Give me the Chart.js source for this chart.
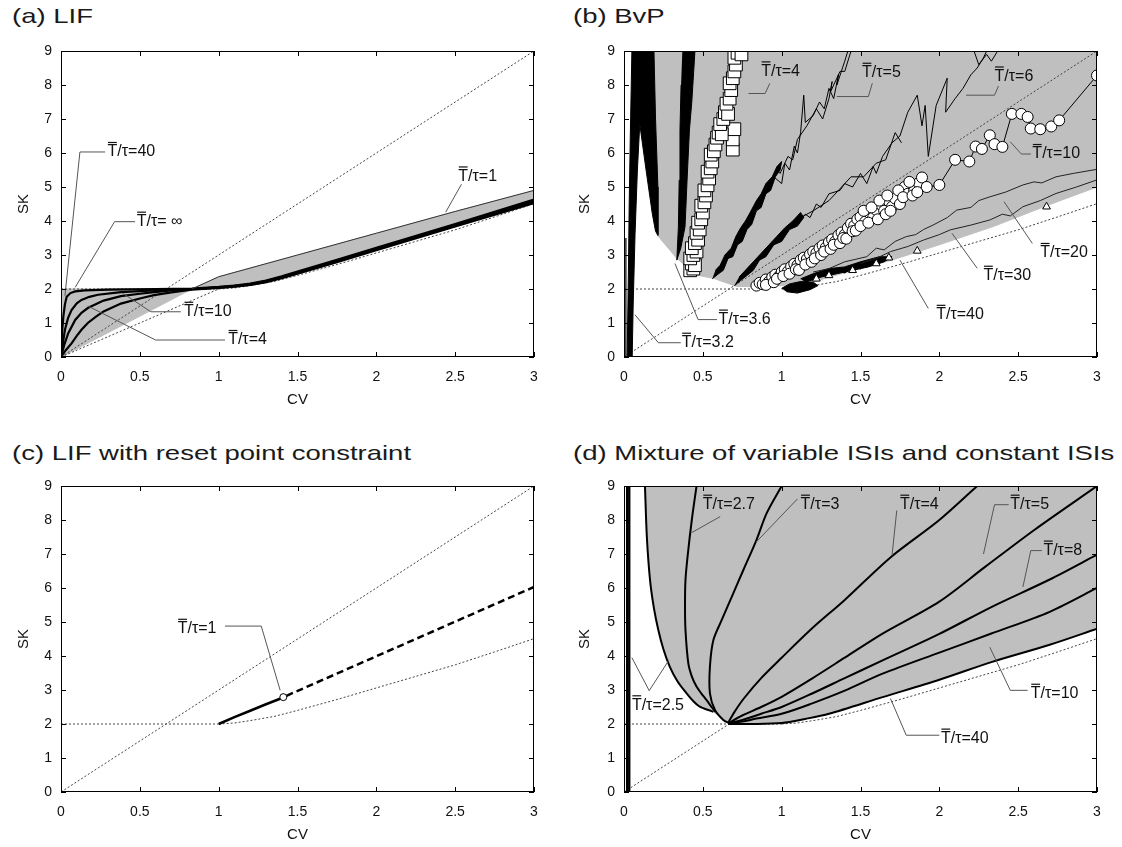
<!DOCTYPE html>
<html lang="en">
<head>
<meta charset="UTF-8">
<title>SK versus CV</title>
<script src="https://cdn.jsdelivr.net/npm/chart.js"></script>
<style>
  body { margin: 0; background: #fff; }
  #page { position: relative; width: 1122px; height: 847px; overflow: hidden; font-family: "Liberation Sans", Arial, sans-serif; }
  .ttl { position: absolute; font-size: 21px; line-height: 26px; color: #1a1a1a; white-space: nowrap; transform: scaleX(1.31); transform-origin: 0 0; }
  canvas { position: absolute; }
</style>
</head>
<body>
<div id="page">
  <div class="ttl" style="left:12px;top:3px">(a) LIF</div>
  <div class="ttl" style="left:573px;top:3px">(b) BvP</div>
  <div class="ttl" style="left:12px;top:440px">(c) LIF with reset point constraint</div>
  <div class="ttl" style="left:573px;top:440px">(d) Mixture of variable ISIs and constant ISIs</div>
  <canvas id="pa" width="561" height="412" style="left:0;top:0"></canvas>
  <canvas id="pb" width="561" height="412" style="left:561px;top:0"></canvas>
  <canvas id="pc" width="561" height="412" style="left:0;top:435px"></canvas>
  <canvas id="pd" width="561" height="412" style="left:561px;top:435px"></canvas>
</div>
<script>
// axis ticks
const cvTicks = [0, 0.5, 1, 1.5, 2, 2.5, 3];
const skTicks = [0, 1, 2, 3, 4, 5, 6, 7, 8, 9];

// guide lines shared by all panels  [CV, SK]
const diagonal = [[0, 0], [3, 9]];
const flatTwo = [[0, 2], [1, 2]];
const lowerBound = [[1, 2], [1.1, 2.03], [1.2, 2.1], [1.35, 2.22], [1.5, 2.4], [1.75, 2.72], [2, 3.06], [2.25, 3.4], [2.5, 3.74], [2.75, 4.12], [3, 4.51]];

// (a) LIF
const lifGray = [[0, 0], [0, 2], [0.83, 2], [1, 2.36], [1.5, 3], [2, 3.64], [2.5, 4.28], [3, 4.9], [3, 4.54], [2.5, 3.83], [2, 3.15], [1.75, 2.8], [1.5, 2.46], [1.4, 2.32], [1.3, 2.2], [1.2, 2.12], [1.1, 2.07], [1, 2.04], [0.83, 2], [0.5, 1.2], [0, 0]];
const lifSlope = [[0, 0], [1, 2]];
const lifT1 = [[0.83, 2], [1, 2.36], [1.5, 3], [2, 3.64], [2.5, 4.28], [3, 4.9]];
const lifInf = [[0, 0], [0.008, 0.8], [0.015, 1.2], [0.025, 1.55], [0.036, 1.77], [0.06, 1.88], [0.09, 1.93], [0.15, 1.96], [0.3, 1.98], [0.6, 2], [0.83, 2.01], [1, 2.06], [1.1, 2.1], [1.2, 2.16], [1.3, 2.25], [1.4, 2.37], [1.5, 2.51], [1.75, 2.86], [2, 3.21], [2.5, 3.91], [3, 4.63]];
const lifT40 = [[0, 0], [0.015, 0.5], [0.025, 0.8], [0.045, 1.15], [0.067, 1.38], [0.1, 1.58], [0.13, 1.68], [0.18, 1.77], [0.235, 1.83], [0.38, 1.91], [0.59, 1.96], [0.83, 2], [1, 2.05], [1.1, 2.09], [1.2, 2.14], [1.3, 2.23], [1.4, 2.35], [1.5, 2.49], [1.75, 2.83], [2, 3.18], [2.5, 3.88], [3, 4.59]];
const lifT10 = [[0, 0], [0.02, 0.35], [0.046, 0.7], [0.09, 1.09], [0.13, 1.3], [0.17, 1.44], [0.27, 1.66], [0.38, 1.79], [0.5, 1.86], [0.59, 1.91], [0.7, 1.96], [0.83, 2], [1, 2.04], [1.1, 2.08], [1.2, 2.13], [1.3, 2.21], [1.4, 2.33], [1.5, 2.47], [1.75, 2.81], [2, 3.16], [2.5, 3.86], [3, 4.56]];
const lifT4 = [[0, 0], [0.03, 0.2], [0.067, 0.4], [0.1, 0.62], [0.13, 0.8], [0.17, 1], [0.22, 1.18], [0.27, 1.34], [0.38, 1.57], [0.5, 1.72], [0.59, 1.82], [0.7, 1.9], [0.83, 1.98], [1, 2.03], [1.1, 2.07], [1.2, 2.12], [1.3, 2.2], [1.4, 2.32], [1.5, 2.45], [1.75, 2.79], [2, 3.14], [2.5, 3.84], [3, 4.53]];
const lifLeaders = [
  [[0.28, 6.03], [0.12, 6.03], [0.025, 1.8]],
  [[0.47, 3.98], [0.34, 3.98], [0.09, 2.05]],
  [[0.76, 1.33], [0.57, 1.33], [0.39, 1.88]],
  [[1.04, 0.5], [0.6, 0.5], [0.17, 1.5]],
  [[2.54, 5.08], [2.44, 4.26]]
];
const lifNotes = [['=40', 0.295, 6.03], ['= \u221e', 0.48, 3.98], ['=10', 0.78, 1.33], ['=4', 1.06, 0.5], ['=1', 2.52, 5.31]];

// (b) BvP
const bvpGray = [[0.15, 9], [3, 9], [3, 5], [2.68, 4.45], [2.35, 3.85], [2, 3.3], [1.7, 2.85], [1.5, 2.6], [1.3, 2.35], [1.2, 2.2], [1, 2.1], [0.86, 2.06], [0.71, 2.08], [0.57, 2.31], [0.46, 2.41], [0.335, 2.9], [0.21, 3.59], [0.15, 9]];
const bvpStripeA = [[0.05, 9], [0.19, 9], [0.2, 7], [0.215, 5], [0.215, 3.58], [0.2, 3.7], [0.18, 4.2], [0.14, 5.5], [0.1, 6.85], [0.085, 5.5], [0.07, 3.6], [0.058, 1.5], [0.052, 0], [0.02, 0], [0.028, 2.5], [0.033, 4.5], [0.04, 6.5], [0.05, 9]];
const bvpStripeB = [[0.37, 9], [0.45, 9], [0.43, 7.5], [0.415, 6.68], [0.4, 5.2], [0.387, 3.83], [0.36, 3.2], [0.335, 2.85], [0.345, 3.83], [0.35, 5.2], [0.355, 6.68], [0.362, 8]];
const bvpThin = [[0.012, 0], [0.012, 3.5]];
const bvpStreak5 = [[0.56, 2.3], [0.6, 2.45], [0.63, 2.55], [0.66, 2.9], [0.69, 2.95], [0.72, 3.3], [0.75, 3.4], [0.78, 3.75], [0.81, 3.9], [0.84, 4.3], [0.87, 4.4], [0.9, 4.8], [0.93, 4.9], [0.96, 5.3], [0.99, 5.5], [1, 5.75], [0.97, 5.6], [0.94, 5.3], [0.9, 5.1], [0.87, 4.8], [0.84, 4.6], [0.8, 4.25], [0.77, 4], [0.74, 3.8], [0.71, 3.55], [0.68, 3.2], [0.64, 3], [0.61, 2.7], [0.58, 2.55]];
const bvpStreak6 = [[0.7, 2.1], [0.74, 2.25], [0.78, 2.4], [0.82, 2.55], [0.86, 2.85], [0.9, 2.95], [0.95, 3.3], [1, 3.4], [1.05, 3.75], [1.1, 3.85], [1.14, 4.1], [1.12, 4.25], [1.07, 4], [1.02, 3.8], [0.97, 3.55], [0.92, 3.3], [0.87, 3.05], [0.82, 2.8], [0.77, 2.55], [0.73, 2.35]];
const bvpBlob = [[1, 2.02], [1.05, 2.15], [1.12, 2.22], [1.2, 2.2], [1.23, 2.1], [1.18, 1.98], [1.1, 1.88], [1.03, 1.92]];
const bvpMess = [[1.15, 2.2], [1.25, 2.35], [1.35, 2.45], [1.45, 2.55], [1.55, 2.65], [1.65, 2.8], [1.7, 2.95], [1.62, 2.95], [1.5, 2.8], [1.4, 2.65], [1.3, 2.6], [1.2, 2.45], [1.12, 2.3]];
const bvpJag5a = [[0.95, 5.3], [1, 5.1], [1.02, 5.7], [1.05, 5.5], [1.08, 6.2], [1.1, 6], [1.12, 6.6], [1.14, 7.7], [1.15, 6.9], [1.2, 7.1], [1.24, 7.5], [1.27, 7.3], [1.3, 7.9], [1.33, 7.6], [1.36, 8.3], [1.35, 8], [1.4, 8.7], [1.42, 9]];
const bvpJag5b = [[0.97, 5.5], [0.99, 5.4], [1.04, 5.9], [1.07, 5.8], [1.1, 6.4], [1.16, 6.8], [1.22, 7.3], [1.26, 7], [1.3, 7.6], [1.32, 8.1], [1.31, 7.8], [1.37, 8.4], [1.4, 8.4], [1.44, 9]];
const bvpJag6a = [[1.1, 3.9], [1.15, 4.2], [1.18, 4.1], [1.22, 4.5], [1.25, 4.4], [1.3, 4.8], [1.37, 4.9], [1.4, 5.1], [1.45, 5], [1.5, 5.4], [1.54, 5.1], [1.58, 5.6], [1.6, 5.4], [1.64, 5.9], [1.7, 6.3], [1.75, 6.5], [1.8, 7.2], [1.86, 7.7], [1.89, 6.8], [1.91, 7.4], [1.93, 5.9], [1.98, 7.4], [2.05, 8.2], [2.04, 7.2], [2.1, 7.6], [2.15, 7.9], [2.2, 8.3], [2.24, 8.5], [2.28, 8.8], [2.3, 9]];
const bvpJag6b = [[1.12, 4.1], [1.2, 4.3], [1.3, 4.6], [1.38, 5], [1.44, 5.3], [1.52, 5.3], [1.6, 5.7], [1.66, 5.8], [1.72, 6.6], [1.76, 6.3]];
const bvpJag6c = [[2.22, 9], [2.25, 8.6], [2.3, 8.9], [2.33, 8.7], [2.37, 9]];
const bvpT20 = [[1.2, 2.5], [1.3, 2.6], [1.4, 2.8], [1.54, 2.95], [1.6, 3.2], [1.65, 3.15], [1.72, 3.4], [1.79, 3.54], [1.85, 3.6], [1.9, 3.75], [1.96, 3.88], [2.05, 4.1], [2.11, 4.32], [2.2, 4.4], [2.25, 4.6], [2.32, 4.71], [2.42, 4.85], [2.53, 5.06], [2.6, 5.15], [2.65, 5.12], [2.74, 5.3], [2.85, 5.4], [3, 5.52]];
const bvpT30 = [[1.5, 2.75], [1.6, 2.9], [1.69, 3.1], [1.8, 3.25], [1.9, 3.44], [2, 3.6], [2.07, 3.74], [2.2, 3.88], [2.32, 4.03], [2.4, 4.2], [2.45, 4.15], [2.53, 4.42], [2.64, 4.6], [2.74, 4.81], [2.87, 5], [3, 5.21]];
const bvpT40 = [[1.2, 2.3], [1.25, 2.45], [1.3, 2.38], [1.35, 2.55], [1.4, 2.48], [1.46, 2.68], [1.5, 2.6], [1.56, 2.8], [1.6, 2.72], [1.65, 2.9], [1.7, 2.88]];
const bvpSquares = [[0.42, 2.55], [0.44, 2.6], [0.43, 2.75], [0.45, 2.7], [0.42, 2.9], [0.44, 3], [0.46, 3.1], [0.43, 3.2], [0.45, 3.35], [0.47, 3.45], [0.46, 3.65], [0.48, 3.75], [0.47, 3.95], [0.49, 4.05], [0.5, 4.25], [0.49, 4.45], [0.51, 4.55], [0.52, 4.75], [0.51, 4.9], [0.53, 5.05], [0.54, 5.25], [0.53, 5.45], [0.55, 5.55], [0.56, 5.75], [0.55, 5.95], [0.57, 6.05], [0.58, 6.25], [0.59, 6.45], [0.6, 6.6], [0.69, 6.1], [0.69, 6.4], [0.7, 6.7], [0.62, 6.55], [0.61, 6.85], [0.63, 7], [0.64, 7.2], [0.66, 7.15], [0.65, 7.45], [0.67, 7.6], [0.68, 7.85], [0.67, 8.05], [0.69, 8.2], [0.7, 8.4], [0.71, 8.6], [0.7, 8.8], [0.72, 8.95], [0.745, 8.9]];
const bvpCircles = [[0.84, 2.1], [0.86, 2.18], [0.88, 2.14], [0.9, 2.28], [0.92, 2.22], [0.94, 2.35], [0.96, 2.42], [0.98, 2.36], [1, 2.5], [1.02, 2.58], [1.04, 2.52], [1.06, 2.66], [1.08, 2.74], [1.1, 2.7], [1.12, 2.85], [1.14, 2.92], [1.16, 2.88], [1.18, 3.02], [1.2, 3.1], [1.22, 3.06], [1.24, 3.2], [1.26, 3.28], [1.28, 3.22], [1.3, 3.38], [1.32, 3.46], [1.34, 3.4], [1.36, 3.58], [1.38, 3.66], [1.4, 3.6], [1.42, 3.8], [1.44, 3.92], [1.46, 3.86], [1.48, 4.05], [1.5, 4.12], [1.53, 3.98], [1.56, 4.22], [1.58, 4.1], [1.6, 4.32], [1.63, 4.48], [1.65, 4.3], [1.68, 4.58], [1.7, 4.42], [1.72, 4.66], [1.75, 4.5], [1.78, 5], [1.8, 4.8], [1.84, 4.88], [1.87, 5.12], [1.89, 5.28], [1.92, 5], [2, 5.06], [2.1, 5.8], [2.19, 5.75], [2.23, 6.19], [2.27, 6.12], [2.32, 6.52], [2.35, 6.26], [2.4, 6.18], [2.46, 7.15], [2.52, 7.15], [2.56, 7.06], [2.58, 6.72], [2.64, 6.7], [2.71, 6.78], [2.76, 6.96], [3, 8.28]];
const bvpCirclesExtra = [[0.9, 2.12], [0.95, 2.2], [0.97, 2.3], [1.01, 2.38], [1.05, 2.45], [1.09, 2.58], [1.11, 2.56], [1.15, 2.72], [1.19, 2.8], [1.21, 2.9], [1.25, 3], [1.27, 3.1], [1.31, 3.18], [1.33, 3.3], [1.37, 3.35], [1.39, 3.5], [1.41, 3.48], [1.45, 3.7], [1.47, 3.72], [1.5, 3.85], [1.52, 4.3], [1.55, 3.95], [1.57, 4.4], [1.61, 4.05], [1.62, 4.6], [1.66, 4.2], [1.67, 4.75], [1.69, 4.3], [1.74, 4.9], [1.77, 4.7], [1.81, 5.15], [1.83, 4.75], [1.86, 4.85]];
const bvpTriangles = [[1.22, 2.3], [1.3, 2.4], [1.45, 2.55], [1.6, 2.75], [1.68, 2.92], [1.86, 3.12], [2.68, 4.42]];
const bvpLeaders = [
  [[0.79, 7.75], [0.895, 7.75], [0.925, 8.05]],
  [[1.575, 8.05], [1.55, 7.66], [1.35, 7.66]],
  [[2.375, 7.97], [2.35, 7.7], [2.17, 7.7]],
  [[2.58, 5.97], [2.52, 5.97], [2.45, 6.33]],
  [[2.59, 3.34], [2.41, 4.57]],
  [[2.24, 2.61], [2.08, 3.64]],
  [[1.93, 1.43], [1.75, 2.85]],
  [[0.59, 1.1], [0.47, 1.1], [0.323, 2.75]],
  [[0.36, 0.42], [0.218, 0.42], [0.07, 1.24]]
];
const bvpNotes = [['=4', 0.87, 8.4], ['=5', 1.51, 8.36], ['=6', 2.35, 8.25], ['=10', 2.59, 5.97], ['=20', 2.64, 3.06], ['=30', 2.28, 2.39], ['=40', 1.98, 1.24], ['=3.6', 0.6, 1.1], ['=3.2', 0.366, 0.42]];

// (c) LIF with reset point constraint
const resetSolid = [[1, 2], [1.1, 2.2], [1.2, 2.39], [1.3, 2.58], [1.41, 2.78]];
const resetDashed = [[1.43, 2.83], [3, 6.03]];
const resetPoint = [[1.41, 2.79]];
const resetLeaders = [[[1.04, 4.88], [1.27, 4.88], [1.39, 2.99]]];
const resetNotes = [['=1', 0.74, 4.8]];

// (d) mixture of variable ISIs and constant ISIs
const mixGray = [[0.133, 9], [0.145, 7.5], [0.165, 6.24], [0.19, 5.4], [0.218, 4.76], [0.25, 4.2], [0.29, 3.69], [0.34, 3.25], [0.397, 2.9], [0.44, 2.67], [0.48, 2.51], [0.53, 2.42], [0.567, 2.36], [0.6, 2.25], [0.64, 2.1], [0.67, 2.02], [0.8, 2], [1, 2.03], [1.15, 2.15], [1.3, 2.3], [1.64, 2.79], [2, 3.3], [2.33, 3.82], [2.7, 4.33], [3, 4.8], [3, 9]];
const mixT25 = [[0.133, 9], [0.145, 7.5], [0.165, 6.24], [0.19, 5.4], [0.218, 4.76], [0.25, 4.2], [0.29, 3.69], [0.34, 3.25], [0.397, 2.9], [0.44, 2.67], [0.48, 2.51], [0.53, 2.42], [0.567, 2.36]];
const mixT27 = [[0.46, 9], [0.43, 8], [0.405, 7], [0.39, 6.24], [0.387, 5.5], [0.39, 4.76], [0.408, 3.78], [0.43, 3.4], [0.46, 3.1], [0.49, 2.9], [0.524, 2.7], [0.555, 2.5], [0.58, 2.36]];
const mixT3 = [[1, 9], [0.905, 8.2], [0.84, 7.41], [0.757, 6.53], [0.693, 5.84], [0.62, 5.06], [0.567, 4.47], [0.545, 3.69], [0.545, 2.9], [0.577, 2.41], [0.63, 2.12], [0.67, 2.02]];
const mixT4 = [[0.66, 2.03], [0.7, 2.35], [0.76, 2.75], [0.87, 3.35], [1, 3.95], [1.19, 4.8], [1.4, 5.65], [1.69, 6.9], [2, 8], [2.24, 9]];
const mixT5 = [[0.66, 2.02], [0.75, 2.25], [0.87, 2.5], [1, 2.8], [1.19, 3.33], [1.4, 3.95], [1.64, 4.66], [2, 5.6], [2.29, 6.62], [2.6, 7.7], [3, 9]];
const mixT8 = [[0.66, 2.02], [0.75, 2.12], [0.87, 2.3], [1, 2.5], [1.19, 2.89], [1.4, 3.35], [1.64, 3.87], [2, 4.65], [2.33, 5.44], [2.7, 6.25], [3, 6.98]];
const mixT10 = [[0.66, 2.01], [0.75, 2.07], [0.84, 2.16], [1, 2.3], [1.19, 2.6], [1.4, 2.98], [1.64, 3.48], [2, 4.1], [2.33, 4.66], [2.7, 5.3], [3, 6]];
const mixT40 = [[0.66, 2], [0.8, 2], [1, 2.03], [1.15, 2.15], [1.3, 2.3], [1.64, 2.79], [2, 3.3], [2.33, 3.82], [2.7, 4.33], [3, 4.8]];
const mixWallA = [[0.022, 0], [0.022, 9]];
const mixWallB = [[0.036, 0], [0.036, 9]];
const mixLeaders = [
  [[0.61, 8.1], [0.43, 7.63]],
  [[1.1, 8.62], [0.84, 7.36]],
  [[1.73, 8.28], [1.7, 6.96]],
  [[2.44, 8.45], [2.35, 8.45], [2.28, 7]],
  [[2.65, 7.1], [2.58, 7.1], [2.53, 6.03]],
  [[2.56, 2.99], [2.45, 2.99], [2.32, 4.26]],
  [[2, 1.67], [1.79, 1.67], [1.69, 2.75]],
  [[0.05, 3.95], [0.16, 2.98], [0.285, 3.88]]
];
const mixNotes = [['=2.7', 0.5, 8.45], ['=3', 1.12, 8.45], ['=4', 1.75, 8.45], ['=5', 2.45, 8.45], ['=8', 2.66, 7.1], ['=10', 2.58, 2.89], ['=40', 2.01, 1.57], ['=2.5', 0.05, 2.55]];

const FONT = '"Liberation Sans", Arial, sans-serif';
const GRAY = '#bfbfbf';

const xy = arr => arr.map(p => ({ x: p[0], y: p[1] }));
function curve(arr, width, extra) {
  return Object.assign({ data: xy(arr), borderColor: '#000', borderWidth: width, pointRadius: 0, fill: false, order: 5 }, extra || {});
}
function dots(arr, order) {
  return curve(arr, 1, { borderColor: '#444', borderDash: [2, 2], order: order || 15 });
}
function area(arr, color, order) {
  return { data: xy(arr), fill: 'shape', backgroundColor: color, borderColor: color, borderWidth: 1, pointRadius: 0, order: order || 20 };
}
function marks(arr, style, r, line) {
  return { data: xy(arr), showLine: !!line, borderColor: '#000', borderWidth: 1, pointStyle: style, pointRadius: r,
    pointBackgroundColor: '#fff', pointBorderColor: '#000', pointBorderWidth: 1, order: 2 };
}
const smooth = (arr, w) => curve(arr, w, { tension: 0.3 });
const leaders = list => list.map(l => curve(l, 1, { borderColor: '#555', order: 1 }));

// inward ticks on all four sides plus the frame
const framePlugin = {
  id: 'frame',
  afterDraw(chart) {
    const { ctx, chartArea: a, scales: { x, y } } = chart;
    ctx.save();
    ctx.strokeStyle = '#000';
    ctx.lineWidth = 1;
    ctx.beginPath();
    cvTicks.forEach(v => {
      const px = Math.round(x.getPixelForValue(v)) + 0.5;
      ctx.moveTo(px, a.bottom); ctx.lineTo(px, a.bottom - 5);
      ctx.moveTo(px, a.top); ctx.lineTo(px, a.top + 5);
    });
    skTicks.forEach(v => {
      const py = Math.round(y.getPixelForValue(v)) + 0.5;
      ctx.moveTo(a.left, py); ctx.lineTo(a.left + 5, py);
      ctx.moveTo(a.right, py); ctx.lineTo(a.right - 5, py);
    });
    ctx.stroke();
    ctx.strokeRect(Math.round(a.left) + 0.5, Math.round(a.top) + 0.5, Math.round(a.width) - 1, Math.round(a.height) - 1);
    ctx.restore();
  }
};

// "T/τ=.." labels with a bar over the T
function notesPlugin(items) {
  return {
    id: 'notes',
    afterDatasetsDraw(chart) {
      const { ctx, scales: { x, y } } = chart;
      ctx.save();
      ctx.font = '16px ' + FONT;
      ctx.fillStyle = '#111';
      ctx.strokeStyle = '#111';
      ctx.lineWidth = 1.2;
      ctx.textBaseline = 'middle';
      items.forEach(([txt, cv, sk]) => {
        const px = x.getPixelForValue(cv), py = y.getPixelForValue(sk);
        const w = ctx.measureText('T').width;
        ctx.fillText('T', px, py);
        ctx.beginPath();
        ctx.moveTo(px + 0.5, py - 9.5);
        ctx.lineTo(px + w - 0.5, py - 9.5);
        ctx.stroke();
        ctx.fillText('/\u03c4' + txt, px + w, py);
      });
      ctx.restore();
    }
  };
}

function panel(id, yWidth, padRight, datasets, notes) {
  const tickFont = { family: FONT, size: 14 };
  const titleFont = { family: FONT, size: 15 };
  return new Chart(document.getElementById(id), {
    type: 'line',
    data: { datasets: datasets },
    options: {
      responsive: false,
      animation: false,
      events: [],
      layout: { padding: { top: 51, right: padRight, left: 0, bottom: 0 } },
      plugins: { legend: { display: false }, tooltip: { enabled: false } },
      scales: {
        x: {
          type: 'linear', min: 0, max: 3,
          grid: { display: false, drawTicks: false }, border: { display: false },
          afterBuildTicks: s => { s.ticks = cvTicks.map(v => ({ value: v })); },
          ticks: { color: '#111', font: tickFont, padding: 12, maxRotation: 0, autoSkip: false, callback: v => String(v) },
          title: { display: true, text: 'CV', color: '#111', font: titleFont, padding: { top: 0, bottom: 3 } },
          afterFit: s => { s.height = 55; }
        },
        y: {
          type: 'linear', min: 0, max: 9,
          grid: { display: false, drawTicks: false }, border: { display: false },
          afterBuildTicks: s => { s.ticks = skTicks.map(v => ({ value: v })); },
          ticks: { color: '#111', font: tickFont, padding: 9, autoSkip: false, callback: v => String(v) },
          title: { display: true, text: 'SK', color: '#111', font: titleFont, padding: { top: 15, bottom: 0 } },
          afterFit: s => { s.width = yWidth; }
        }
      }
    },
    plugins: [framePlugin, notesPlugin(notes)]
  });
}

panel('pa', 61, 27, [
  area(lifGray, GRAY),
  dots(diagonal), dots(flatTwo), dots(lifSlope), dots(lowerBound),
  curve(lifT1, 1, { borderColor: '#333' }),
  curve(lifInf, 2.2), curve(lifT40, 2.2), curve(lifT10, 2.2), curve(lifT4, 2.2)
].concat(leaders(lifLeaders)), lifNotes);

panel('pb', 63, 25, [
  area(bvpGray, GRAY),
  dots(diagonal), dots([[0, 2], [0.9, 2]]), dots(lowerBound),
  area(bvpStripeA, '#000', 8), area(bvpStripeB, '#000', 8),
  area(bvpStreak5, '#000', 8), area(bvpStreak6, '#000', 8),
  area(bvpBlob, '#000', 8), area(bvpMess, '#000', 8),
  curve(bvpThin, 1.2),
  curve(bvpJag5a, 1), curve(bvpJag5b, 1), curve(bvpJag6a, 1), curve(bvpJag6b, 1), curve(bvpJag6c, 1),
  curve(bvpT20, 1, { borderColor: '#222' }), curve(bvpT30, 1, { borderColor: '#222' }), curve(bvpT40, 1.5),
  marks(bvpSquares, 'rect', 9),
  marks(bvpCirclesExtra, 'circle', 5.5),
  marks(bvpCircles, 'circle', 5.5, true),
  marks(bvpTriangles, 'triangle', 4.5)
].concat(leaders(bvpLeaders)), bvpNotes);

panel('pc', 61, 27, [
  dots(diagonal), dots(flatTwo), dots(lowerBound),
  curve(resetSolid, 2.5),
  curve(resetDashed, 2.5, { borderDash: [7, 4] }),
  marks(resetPoint, 'circle', 3.5)
].concat(leaders(resetLeaders)), resetNotes);

panel('pd', 63, 25, [
  dots(diagonal, 30), dots(flatTwo, 30), dots(lowerBound, 30),
  area(mixGray, GRAY),
  curve(mixWallA, 3), curve(mixWallB, 1.5),
  smooth(mixT25, 2), smooth(mixT27, 2), smooth(mixT3, 2), smooth(mixT4, 2), smooth(mixT5, 2),
  smooth(mixT8, 2), smooth(mixT10, 2), smooth(mixT40, 2)
].concat(leaders(mixLeaders)), mixNotes);
</script>
</body>
</html>
